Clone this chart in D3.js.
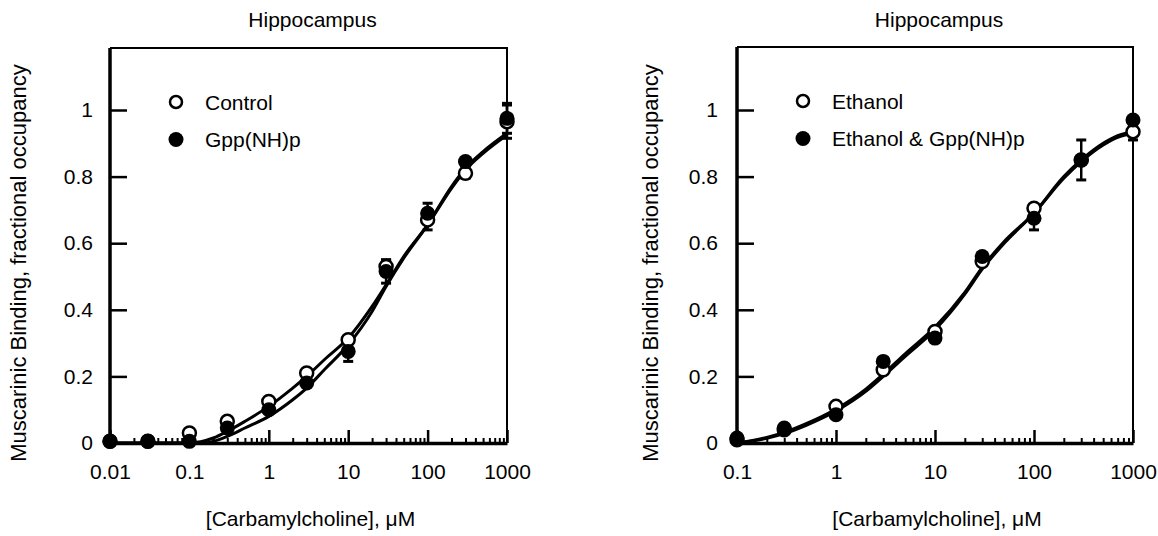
<!DOCTYPE html>
<html>
<head>
<meta charset="utf-8">
<script src="https://cdn.jsdelivr.net/npm/d3@7"></script>
<style>
  html, body { margin: 0; padding: 0; background: #fff; }
  svg text { font-family: "Liberation Sans", Arial, Helvetica, sans-serif; fill: #000; }
</style>
</head>
<body>
<svg id="chart" width="1158" height="536"></svg>
<script>
// ---- Left panel: control vs Gpp(NH)p ----
const leftConcs = [0.01, 0.03, 0.1, 0.3, 1, 3, 10, 30, 100, 300, 1000];
const controlValues = [0.005, 0.005, 0.03, 0.065, 0.125, 0.21, 0.31, 0.53, 0.67, 0.81, 0.965];
const controlErrors = [0, 0, 0, 0, 0, 0, 0, 0.02, 0.03, 0.015, 0.05];
const gppValues = [0.005, 0.005, 0.005, 0.045, 0.10, 0.18, 0.275, 0.515, 0.69, 0.845, 0.975];
const gppErrors = [0, 0, 0, 0, 0, 0, 0.03, 0.035, 0.03, 0, 0.045];
// fitted curves, read as [concentration, occupancy]
const controlCurve = [[0.01, 0], [0.1, 0], [0.2, 0.015], [0.3, 0.035], [0.5, 0.065], [1, 0.11],
  [2, 0.165], [3, 0.2], [5, 0.25], [10, 0.315], [20, 0.41], [30, 0.475], [50, 0.56],
  [100, 0.655], [200, 0.765], [300, 0.82], [500, 0.87], [1000, 0.925]];
const gppCurve = [[0.01, 0], [0.15, 0], [0.2, 0.005], [0.3, 0.02], [0.5, 0.045], [1, 0.08],
  [2, 0.13], [3, 0.165], [5, 0.22], [10, 0.295], [20, 0.395], [30, 0.47], [50, 0.555],
  [100, 0.655], [200, 0.77], [300, 0.825], [500, 0.875], [1000, 0.93]];

// ---- Right panel: ethanol vs ethanol & Gpp(NH)p ----
const rightConcs = [0.1, 0.3, 1, 3, 10, 30, 100, 300, 1000];
const ethanolValues = [0.01, 0.04, 0.11, 0.22, 0.335, 0.545, 0.705, 0.85, 0.935];
const ethanolErrors = [0, 0, 0, 0, 0, 0, 0, 0, 0.025];
const ethGppValues = [0.015, 0.045, 0.085, 0.245, 0.315, 0.56, 0.675, 0.85, 0.97];
const ethGppErrors = [0, 0, 0, 0, 0, 0, 0.035, 0.06, 0];
const ethanolCurve = [[0.1, 0], [0.2, 0.017], [0.3, 0.032], [0.5, 0.058], [1, 0.102], [2, 0.162],
  [3, 0.207], [5, 0.268], [10, 0.348], [20, 0.452], [30, 0.527], [50, 0.605], [100, 0.69],
  [200, 0.795], [300, 0.845], [500, 0.895], [700, 0.918], [1000, 0.93]];
const ethGppCurve = [[0.1, 0], [0.2, 0.014], [0.3, 0.028], [0.5, 0.053], [1, 0.096], [2, 0.155],
  [3, 0.2], [5, 0.26], [10, 0.34], [20, 0.447], [30, 0.522], [50, 0.6], [100, 0.69],
  [200, 0.8], [300, 0.85], [500, 0.9], [700, 0.923], [1000, 0.935]];

const yTicks = [0, 0.2, 0.4, 0.6, 0.8, 1];
const leftDecades = [0.01, 0.1, 1, 10, 100, 1000];
const rightDecades = [0.1, 1, 10, 100, 1000];
const titleText = "Hippocampus";
const xLabelText = "[Carbamylcholine], \u03bcM";
const yLabelText = "Muscarinic Binding, fractional occupancy";

const svg = d3.select("#chart");
const FONT = 21;

function drawPanel(p) {
  const x = d3.scaleLog().domain(p.xDomain).range([p.left, p.right]);
  const y = d3.scaleLinear().domain([0, 1]).range([p.bottom, p.top1]);
  const g = svg.append("g");

  // frame (top and right edges thinner)
  g.append("path")
    .attr("d", `M${p.left},${p.top} H${p.right} V${p.bottom}`)
    .attr("fill", "none").attr("stroke", "#000").attr("stroke-width", 2);

  // minor x ticks
  const minors = [];
  p.decades.slice(0, -1).forEach(d => { for (let k = 2; k <= 9; k++) minors.push(d * k); });
  g.append("g").attr("transform", `translate(0,${p.bottom})`)
    .call(d3.axisBottom(x).tickValues(minors).tickSizeInner(-5).tickSizeOuter(0).tickFormat(""))
    .call(a => a.select(".domain").remove())
    .call(a => a.selectAll("line").attr("stroke-width", 2));

  // major x axis
  g.append("g").attr("transform", `translate(0,${p.bottom})`)
    .call(d3.axisBottom(x).tickValues(p.decades).tickSizeInner(-13).tickSizeOuter(0)
      .tickPadding(21).tickFormat(d3.format("~g")))
    .call(a => a.select(".domain").attr("stroke-width", 3.5))
    .call(a => a.selectAll("line").attr("stroke-width", 2.5))
    .call(a => a.selectAll("text").attr("font-size", FONT).style("font-family", null));

  // y axis
  g.append("g").attr("transform", `translate(${p.left},0)`)
    .call(d3.axisLeft(y).tickValues(yTicks).tickSizeInner(-17).tickSizeOuter(0)
      .tickPadding(p.yPad).tickFormat(d3.format("~g")))
    .call(a => a.select(".domain").attr("d", `M0,${p.bottom}V${p.top}`).attr("stroke-width", 3.5))
    .call(a => a.selectAll("line").attr("stroke-width", 2.5))
    .call(a => a.selectAll("text").attr("font-size", FONT).style("font-family", null));

  // fitted curves
  const line = d3.line().x(d => x(d[0])).y(d => y(d[1])).curve(d3.curveMonotoneX);
  p.curves.forEach(c => {
    g.append("path").datum(c).attr("d", line)
      .attr("fill", "none").attr("stroke", "#000").attr("stroke-width", 3)
      .attr("stroke-linejoin", "round");
  });

  // error bars
  p.series.forEach(s => {
    const rows = s.values.map((v, i) => ({ c: p.concs[i], v, e: s.errors[i] })).filter(r => r.e > 0);
    const eb = g.append("g").attr("stroke", "#000").attr("stroke-width", 2.5);
    rows.forEach(r => {
      const cx = x(r.c);
      eb.append("line").attr("x1", cx).attr("x2", cx).attr("y1", y(r.v - r.e)).attr("y2", y(r.v + r.e));
      [r.v - r.e, r.v + r.e].forEach(yy => {
        eb.append("line").attr("x1", cx - 5).attr("x2", cx + 5).attr("y1", y(yy)).attr("y2", y(yy))
          .attr("stroke-width", 3);
      });
    });
  });

  // markers: open first, filled on top
  p.series.forEach(s => {
    g.append("g").selectAll("circle").data(s.values).join("circle")
      .attr("cx", (d, i) => x(p.concs[i])).attr("cy", d => y(d))
      .attr("r", s.filled ? 7.5 : 6.5)
      .attr("fill", s.filled ? "#000" : "#fff")
      .attr("stroke", "#000").attr("stroke-width", s.filled ? 0 : 2.5);
  });

  // legend
  p.series.forEach((s, i) => {
    const ly = p.legendY + i * 37.5;
    g.append("circle").attr("cx", p.legendX).attr("cy", ly)
      .attr("r", s.filled ? 7.5 : 6)
      .attr("fill", s.filled ? "#000" : "#fff")
      .attr("stroke", "#000").attr("stroke-width", s.filled ? 0 : 2.5);
    g.append("text").attr("x", p.legendX + 29).attr("y", ly + 7.5)
      .attr("font-size", FONT).text(s.name);
  });

  // titles and axis labels
  const cx = (p.left + p.right) / 2;
  g.append("text").attr("x", cx + 4).attr("y", 27).attr("text-anchor", "middle")
    .attr("font-size", FONT).text(titleText);
  g.append("text").attr("x", cx + 2).attr("y", 526).attr("text-anchor", "middle")
    .attr("font-size", FONT).text(xLabelText);
  g.append("text")
    .attr("transform", `translate(${p.yLabelX},263) rotate(-90)`)
    .attr("text-anchor", "middle").attr("font-size", 22).text(yLabelText);
}

drawPanel({
  xDomain: [0.01, 1000], decades: leftDecades, concs: leftConcs,
  left: 110, right: 507, top: 48, top1: 110, bottom: 443, yPad: 17,
  legendX: 176, legendY: 102, yLabelX: 26,
  curves: [controlCurve, gppCurve],
  series: [
    { name: "Control", values: controlValues, errors: controlErrors, filled: false },
    { name: "Gpp(NH)p", values: gppValues, errors: gppErrors, filled: true }
  ]
});

drawPanel({
  xDomain: [0.1, 1000], decades: rightDecades, concs: rightConcs,
  left: 737, right: 1133, top: 47, top1: 110, bottom: 443, yPad: 19,
  legendX: 803, legendY: 101, yLabelX: 658,
  curves: [ethanolCurve, ethGppCurve],
  series: [
    { name: "Ethanol", values: ethanolValues, errors: ethanolErrors, filled: false },
    { name: "Ethanol & Gpp(NH)p", values: ethGppValues, errors: ethGppErrors, filled: true }
  ]
});
</script>
</body>
</html>
